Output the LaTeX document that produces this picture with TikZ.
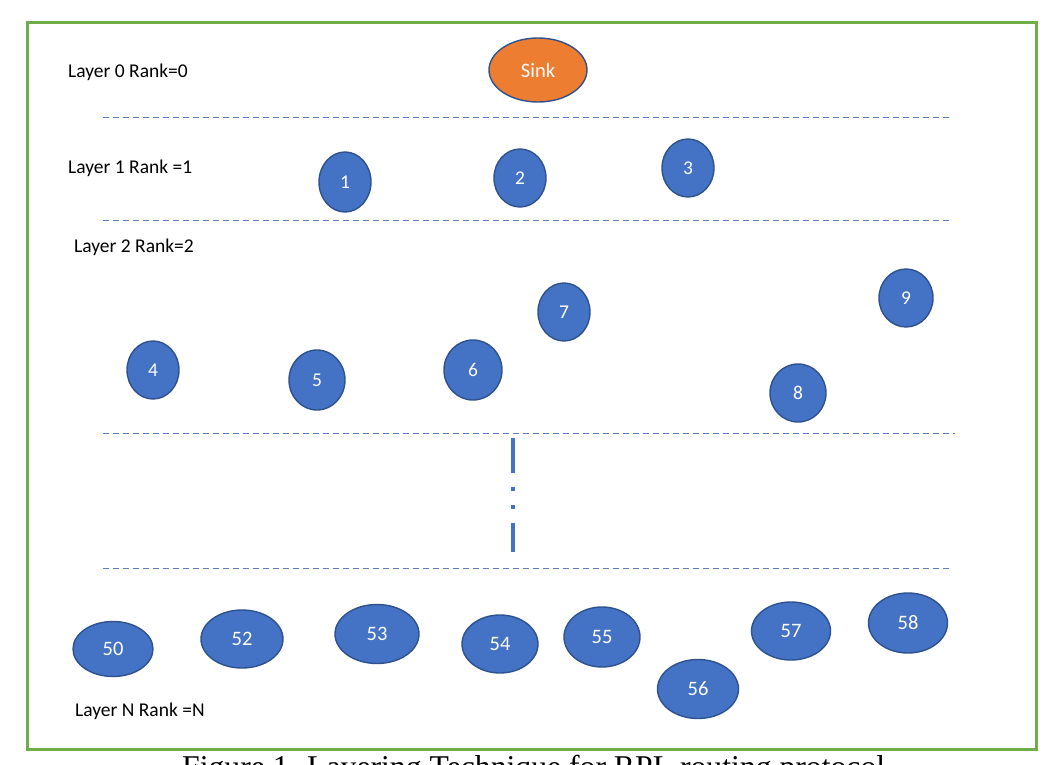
\documentclass[tikz,border=0pt]{standalone}
\usepackage{fontspec}
\setmainfont{Carlito}
\newfontfamily\capfont{Liberation Serif}
\usetikzlibrary{shapes.geometric}
\definecolor{nodeblue}{HTML}{4472C4}
\definecolor{nodeedge}{HTML}{2F528F}
\definecolor{sinkorange}{HTML}{ED7D31}
\definecolor{framegreen}{HTML}{70AD47}
\definecolor{dashblue}{HTML}{5B7DBF}
\tikzset{
  blob/.style={ellipse, draw=nodeedge, fill=nodeblue, line width=1.4pt, text=white, inner sep=0pt, font=\fontsize{19.5}{22}\selectfont},
  bigblob/.style={blob, font=\fontsize{20.5}{23}\selectfont},
  sinkblob/.style={blob, fill=sinkorange, text=white, font=\fontsize{20.5}{23}\selectfont},
  layerlabel/.style={anchor=west, inner sep=0pt, text=black, font=\fontsize{19.5}{22}\selectfont},
  sep/.style={draw=dashblue, line width=1pt, dash pattern=on 6pt off 4pt},
  marker/.style={draw=nodeblue, line width=4.5pt},
  frame/.style={draw=framegreen, line width=3pt}
}
\begin{document}
\begin{tikzpicture}[x=1pt,y=-1pt]
\useasboundingbox (0,0) rectangle (1055,765);
\fill[white] (0,0) rectangle (1055,765);
\draw[frame] (27,23) rectangle (1036,749);

% layer labels
\node[layerlabel] (l0) at (68,72) {Layer 0 Rank=0};
\node[layerlabel] (l1) at (68,168) {Layer 1 Rank =1};
\node[layerlabel] (l2) at (74,247) {Layer 2 Rank=2};
\node[layerlabel] (ln) at (75,711) {Layer N Rank =N};

% separators
\coordinate (s1a) at (103,118); \coordinate (s1b) at (950,118);
\coordinate (s2a) at (103,220); \coordinate (s2b) at (950,220);
\coordinate (s3a) at (103,433); \coordinate (s3b) at (955,433);
\coordinate (s4a) at (103,568); \coordinate (s4b) at (950,568);
\draw[sep] (s1a) -- (s1b);
\draw[sep] (s2a) -- (s2b);
\draw[sep] (s3a) -- (s3b);
\draw[sep] (s4a) -- (s4b);

% vertical ellipsis marker
\draw[marker] (513,438) -- (513,473);
\draw[marker] (513,487) -- (513,491);
\draw[marker] (513,505) -- (513,509);
\draw[marker] (513,523) -- (513,552);

% sink
\node[sinkblob, minimum width=98pt, minimum height=64pt] (sink) at (538,70) {Sink};

% layer 1
\node[blob, minimum width=52pt, minimum height=60pt] (n1) at (345,182) {1};
\node[blob, minimum width=52pt, minimum height=58pt] (n2) at (520,178) {2};
\node[blob, minimum width=52pt, minimum height=58pt] (n3) at (688,168) {3};

% layer 2
\node[blob, minimum width=52pt, minimum height=58pt] (n4) at (153,370) {4};
\node[blob, minimum width=56pt, minimum height=60pt] (n5) at (317,380) {5};
\node[blob, minimum width=58pt, minimum height=60pt] (n6) at (473,370) {6};
\node[blob, minimum width=52pt, minimum height=58pt] (n7) at (564,312) {7};
\node[blob, minimum width=56pt, minimum height=58pt] (n8) at (798,393) {8};
\node[blob, minimum width=54pt, minimum height=58pt] (n9) at (906,298) {9};

% layer N
\node[bigblob, minimum width=80pt, minimum height=55pt] (n50) at (113,649) {50};
\node[bigblob, minimum width=82pt, minimum height=58pt] (n52) at (242,639) {52};
\node[bigblob, minimum width=84pt, minimum height=59pt] (n53) at (377,634) {53};
\node[bigblob, minimum width=76pt, minimum height=58pt] (n54) at (500,644) {54};
\node[bigblob, minimum width=76pt, minimum height=60pt] (n55) at (602,637) {55};
\node[bigblob, minimum width=81pt, minimum height=59pt] (n56) at (698,689) {56};
\node[bigblob, minimum width=79pt, minimum height=58pt] (n57) at (791,631) {57};
\node[bigblob, minimum width=79pt, minimum height=60pt] (n58) at (908,623) {58};

% caption (cut by the page edge, as in the reference)
\node[anchor=base west, inner sep=0pt, font=\capfont\fontsize{31.7}{36}\selectfont] (cap) at (182,777) {Figure 1. Layering Technique for RPL routing protocol};
\end{tikzpicture}
\end{document}
